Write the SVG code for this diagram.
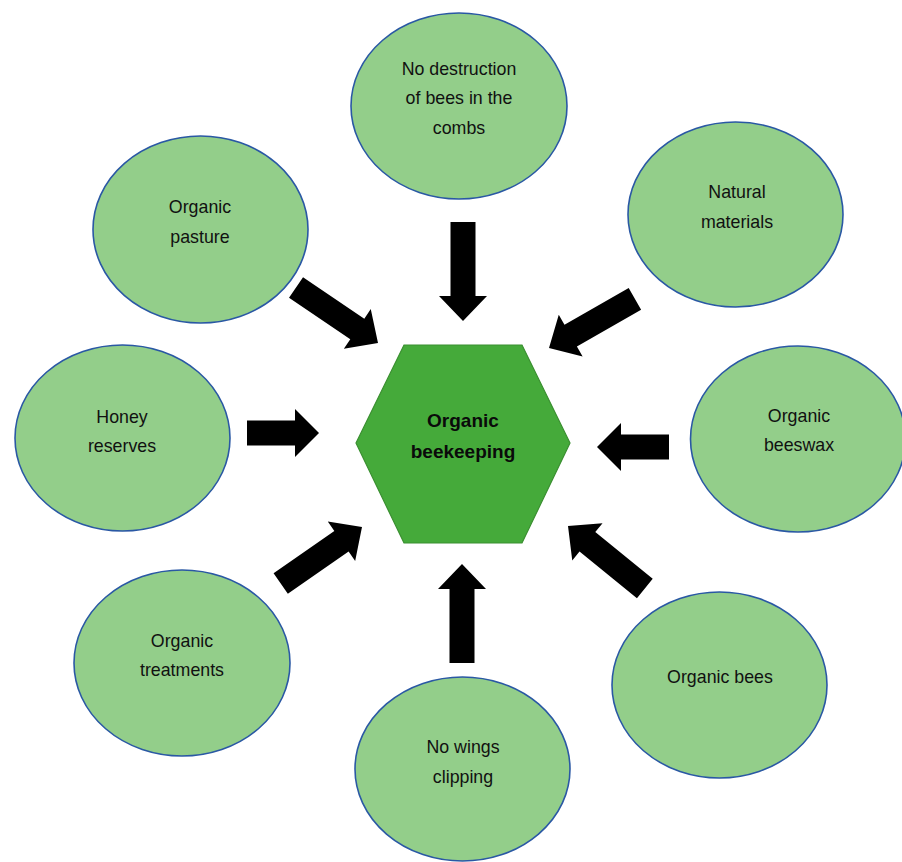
<svg xmlns="http://www.w3.org/2000/svg" width="902" height="862" viewBox="0 0 902 862">
  <style>
    .bubble ellipse { fill: #93CE8A; stroke: #2A58A4; stroke-width: 1.6; }
    .bubble text { font-family: "Liberation Sans", Arial, sans-serif; font-size: 17.8px; fill: #111; text-anchor: middle; }
    .hub polygon { fill: #45AA3A; stroke: #3A8F30; stroke-width: 1.2; }
    .hub text { font-family: "Liberation Sans", Arial, sans-serif; font-size: 19px; font-weight: bold; fill: #0a0a0a; text-anchor: middle; }
    .arrow { fill: #000; }
  </style>
  <defs>
    <!-- block arrows, tip at origin, pointing along +x -->
    <path id="arrowLong" d="M0,0 L-25,-24 L-25,-12.5 L-99,-12.5 L-99,12.5 L-25,12.5 L-25,24 Z"/>
    <path id="arrowShort" d="M0,0 L-24,-24 L-24,-12.5 L-72,-12.5 L-72,12.5 L-24,12.5 L-24,24 Z"/>
  </defs>
  <rect width="902" height="862" fill="#fff"/>

  <g id="connectors" class="arrow">
    <use href="#arrowLong" transform="translate(463,321) rotate(90)"/>
    <use href="#arrowLong" transform="translate(549,348) rotate(150.2)"/>
    <use href="#arrowShort" transform="translate(597,447) rotate(180)"/>
    <use href="#arrowLong" transform="translate(568,526) rotate(219.1)"/>
    <use href="#arrowLong" transform="translate(462,564) rotate(270)"/>
    <use href="#arrowLong" transform="translate(362,527) rotate(-34.8)"/>
    <use href="#arrowShort" transform="translate(319,433)"/>
    <use href="#arrowLong" transform="translate(378,343) rotate(34.1)"/>
  </g>

  <g id="hub" class="hub">
    <polygon points="356,443 404,345 522,345 570,443 522,543 404,543"/>
    <text x="463" y="427">Organic</text>
    <text x="463" y="458">beekeeping</text>
  </g>

  <g id="no-destruction" class="bubble">
    <ellipse cx="459" cy="106" rx="108" ry="93"/>
    <text x="459" y="75">No destruction</text>
    <text x="459" y="104">of bees in the</text>
    <text x="459" y="134">combs</text>
  </g>

  <g id="natural-materials" class="bubble">
    <ellipse cx="735.5" cy="214.5" rx="107.5" ry="92.5"/>
    <text x="737" y="198">Natural</text>
    <text x="737" y="228">materials</text>
  </g>

  <g id="organic-beeswax" class="bubble">
    <ellipse cx="798" cy="439" rx="107.5" ry="93"/>
    <text x="799" y="422">Organic</text>
    <text x="799" y="451">beeswax</text>
  </g>

  <g id="organic-bees" class="bubble">
    <ellipse cx="719.5" cy="685" rx="107.5" ry="93"/>
    <text x="720" y="683">Organic bees</text>
  </g>

  <g id="no-wings-clipping" class="bubble">
    <ellipse cx="462.5" cy="769" rx="107.5" ry="92"/>
    <text x="463" y="753">No wings</text>
    <text x="463" y="783">clipping</text>
  </g>

  <g id="organic-treatments" class="bubble">
    <ellipse cx="182" cy="663" rx="108" ry="93"/>
    <text x="182" y="647">Organic</text>
    <text x="182" y="676">treatments</text>
  </g>

  <g id="honey-reserves" class="bubble">
    <ellipse cx="122.5" cy="438" rx="107.5" ry="93"/>
    <text x="122" y="423">Honey</text>
    <text x="122" y="452">reserves</text>
  </g>

  <g id="organic-pasture" class="bubble">
    <ellipse cx="200.5" cy="229.5" rx="107.5" ry="93.5"/>
    <text x="200" y="213">Organic</text>
    <text x="200" y="243">pasture</text>
  </g>
</svg>
